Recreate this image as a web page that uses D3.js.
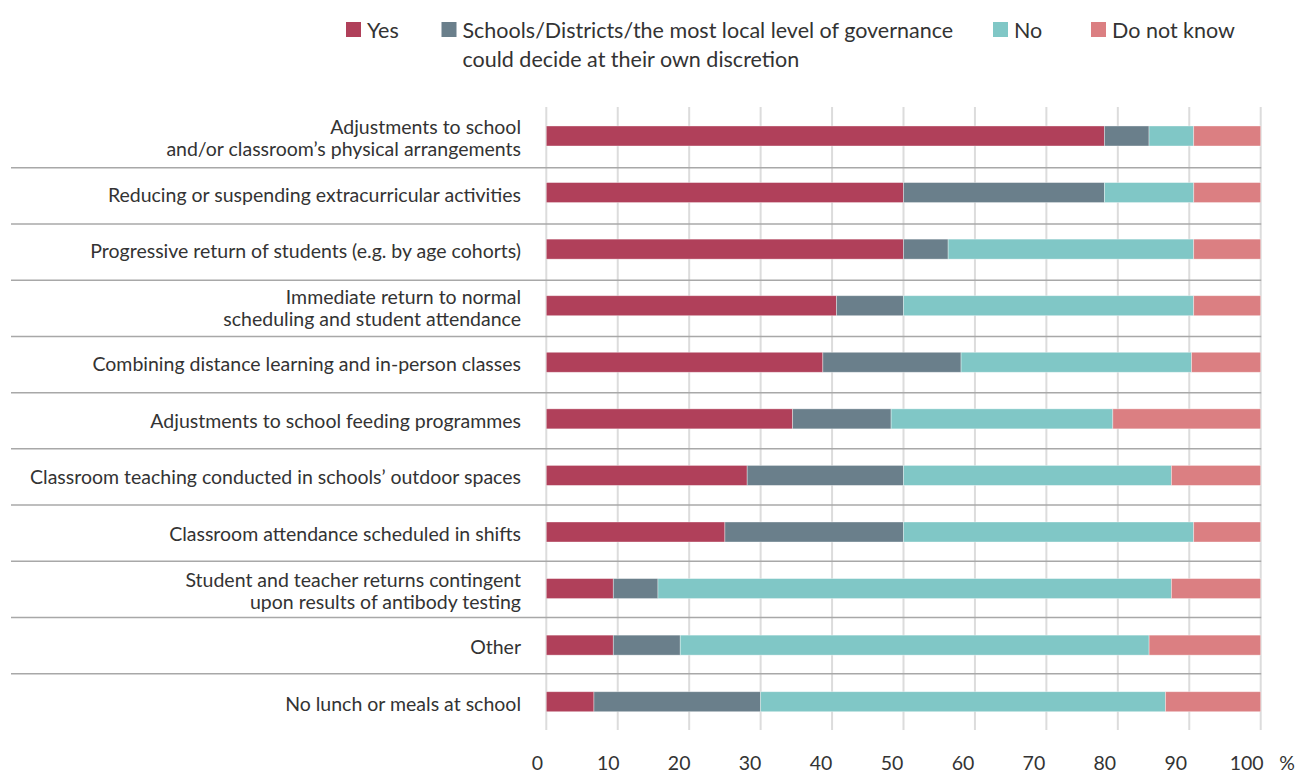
<!DOCTYPE html>
<html>
<head>
<meta charset="utf-8">
<script src="https://cdn.jsdelivr.net/npm/d3@7"></script>
<style>
  html, body { margin: 0; padding: 0; background: #fff; }
  svg { display: block; }
  text { font-family: "Lato", "Liberation Sans", sans-serif; fill: #333; }
</style>
</head>
<body>
<svg id="chart" width="1298" height="773"></svg>
<script>
// Measures taken when schools reopened (share of countries, %)
const categories = [
  "Adjustments to school\nand/or classroom\u2019s physical arrangements",
  "Reducing or suspending extracurricular activities",
  "Progressive return of students (e.g. by age cohorts)",
  "Immediate return to normal\nscheduling and student attendance",
  "Combining distance learning and in-person classes",
  "Adjustments to school feeding programmes",
  "Classroom teaching conducted in schools\u2019 outdoor spaces",
  "Classroom attendance scheduled in shifts",
  "Student and teacher returns contingent\nupon results of antibody testing",
  "Other",
  "No lunch or meals at school"
];

const yesValues      = [78.12, 50.00, 50.00, 40.62, 38.71, 34.48, 28.12, 25.00,  9.38,  9.38,  6.67];
const schoolsValues  = [ 6.25, 28.13,  6.25,  9.38, 19.35, 13.79, 21.88, 25.00,  6.25,  9.37, 23.33];
const noValues       = [ 6.25, 12.50, 34.37, 40.62, 32.26, 31.03, 37.50, 40.62, 71.87, 65.63, 56.67];
const dontKnowValues = [ 9.38,  9.37,  9.38,  9.38,  9.68, 20.70, 12.50,  9.38, 12.50, 15.62, 13.33];

const seriesNames = [
  "Yes",
  "Schools/Districts/the most local level of governance\ncould decide at their own discretion",
  "No",
  "Do not know"
];
const seriesKeys = ["yes", "schools", "no", "dontKnow"];
const seriesColors = ["#b0405a", "#6a7f8b", "#80c7c6", "#db7f82"];

const xTicks = [0, 10, 20, 30, 40, 50, 60, 70, 80, 90, 100];
const unitLabel = "%";

const rows = categories.map((c, i) => ({
  category: c,
  yes: yesValues[i],
  schools: schoolsValues[i],
  no: noValues[i],
  dontKnow: dontKnowValues[i]
}));

const svg = d3.select("#chart");

const x = d3.scaleLinear().domain([0, 100]).range([546.3, 1260.7]);
const y = d3.scaleBand().domain(categories).range([107.7, 730]);      // bar rows
const ySep = d3.scaleBand().domain(categories).range([111.5, 730]);   // row dividers
const barH = 20;
const gridTop = 107, gridBottom = 730;

// vertical gridlines
svg.append("g").selectAll("line").data(xTicks).join("line")
  .attr("x1", d => x(d)).attr("x2", d => x(d))
  .attr("y1", gridTop).attr("y2", gridBottom)
  .attr("stroke", "#dcdcdc").attr("stroke-width", 2);

// row dividers
svg.append("g").selectAll("line").data(categories.slice(1)).join("line")
  .attr("x1", 11).attr("x2", x(100) + 0.5)
  .attr("y1", d => ySep(d)).attr("y2", d => ySep(d))
  .attr("stroke", "#a8a8a8").attr("stroke-width", 1.5);

// stacked bars
const stacked = d3.stack().keys(seriesKeys)(rows);
svg.append("g").selectAll("g").data(stacked).join("g")
  .attr("fill", (d, i) => seriesColors[i])
  .selectAll("rect").data(d => d).join("rect")
  .attr("x", d => x(d[0]))
  .attr("width", d => Math.max(0, Math.min(x(d[1]), x(100)) - x(d[0])))
  .attr("y", d => y(d.data.category) + y.bandwidth() / 2 - barH / 2)
  .attr("height", barH)
  .attr("stroke", "#ffffff").attr("stroke-opacity", 0.45).attr("stroke-width", 0.8);

// category labels
const labelSize = 19.5;
const lbl = svg.append("g").selectAll("text").data(categories).join("text")
  .attr("x", 521)
  .attr("text-anchor", "end")
  .attr("font-size", labelSize)
  .attr("dominant-baseline", "central");
lbl.each(function (d) {
  const lines = d.split("\n");
  const cy = y(d) + y.bandwidth() / 2 + 1;
  const lh = 22;
  const t = d3.select(this);
  lines.forEach((ln, k) => {
    t.append("tspan")
      .attr("x", 521)
      .attr("y", cy + (k - (lines.length - 1) / 2) * lh)
      .text(ln);
  });
});

// x axis labels
const xAxis = d3.axisBottom(x).tickValues(xTicks).tickSize(0).tickPadding(0);
const axisG = svg.append("g").attr("transform", "translate(0,756)").call(xAxis);
axisG.select(".domain").remove();
axisG.selectAll("text")
  .attr("font-size", 19.5).attr("fill", "#333")
  .attr("font-family", "Lato, 'Liberation Sans', sans-serif")
  .attr("dx", d => -9.5 - d * 0.05);
svg.append("text").attr("x", 1287).attr("y", 770)
  .attr("text-anchor", "middle").attr("font-size", 19.5).text(unitLabel);

// legend
const legendX = [346, 441.5, 993, 1091];
const leg = svg.append("g").selectAll("g").data(seriesNames).join("g")
  .attr("transform", (d, i) => `translate(${legendX[i]},22)`);
leg.append("rect").attr("width", 15).attr("height", 15)
  .attr("fill", (d, i) => seriesColors[i]);
leg.append("text")
  .attr("x", 21)
  .attr("font-size", 21.5)
  .each(function (d) {
    const t = d3.select(this);
    d.split("\n").forEach((ln, k) => {
      t.append("tspan").attr("x", 21).attr("y", 16 + k * 29).text(ln);
    });
  });
</script>
</body>
</html>
